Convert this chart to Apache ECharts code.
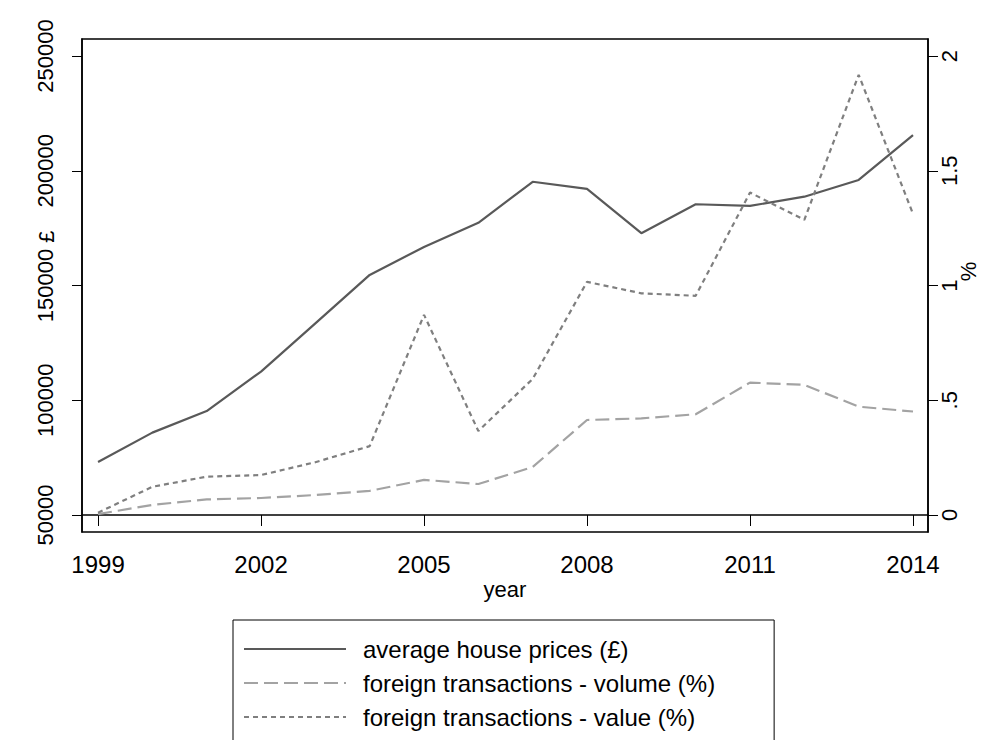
<!DOCTYPE html>
<html>
<head>
<meta charset="utf-8">
<script src="https://cdn.jsdelivr.net/npm/echarts@6/dist/echarts.min.js"></script>
<style>
html,body{margin:0;padding:0;background:#fff;}
#chart{width:998px;height:740px;}
</style>
</head>
<body>
<div id="chart"></div>
<script>
const years = [1999,2000,2001,2002,2003,2004,2005,2006,2007,2008,2009,2010,2011,2012,2013,2014];
const housePrices = [73100,85900,95300,112500,133500,154600,166800,177300,195200,192100,172800,185400,184700,188700,196000,215500];
const volumePct = [0.004,0.044,0.068,0.074,0.087,0.105,0.153,0.135,0.209,0.414,0.421,0.439,0.577,0.567,0.472,0.451];
const valuePct = [0.01,0.123,0.167,0.174,0.23,0.30,0.872,0.366,0.593,1.016,0.966,0.955,1.405,1.286,1.918,1.312];
const xTicks = [1999,2002,2005,2008,2011,2014];
const leftTicks = [50000,100000,150000,200000,250000];
const rightTicks = [0,0.5,1,1.5,2];
const rightTickLabels = ['0','.5','1','1.5','2'];
const seriesNames = ['average house prices (£)','foreign transactions - volume (%)','foreign transactions - value (%)'];

const pair = arr => years.map((y,i)=>[y,arr[i]]);
const font = 'Liberation Sans, Arial, Helvetica, sans-serif';
const solidCol = '#595959', volCol = '#a3a3a3', valCol = '#7f7f7f';
const volDash = [14,6], valDash = [5,4];

const chart = echarts.init(document.getElementById('chart'), null, {renderer:'svg'});
chart.setOption({
  animation:false,
  backgroundColor:'#fff',
  textStyle:{fontFamily:font},
  grid:{left:82, top:39, right:70, bottom:208, show:true, borderColor:'#000', borderWidth:1.5,
        containLabel:false, outerBoundsMode:'none'},
  xAxis:{
    type:'value', min:1998.705, max:2014.276,
    name:'year', nameLocation:'middle', nameGap:46, nameMoveOverlap:false,
    nameTextStyle:{fontSize:22, color:'#000', fontFamily:font},
    axisLine:{show:true, lineStyle:{color:'#000', width:1.5}},
    axisTick:{show:true, length:11, customValues:xTicks, lineStyle:{color:'#000', width:1}},
    axisLabel:{customValues:xTicks, fontSize:24, color:'#000', margin:20, formatter:v=>String(v)},
    splitLine:{show:false}
  },
  yAxis:[{
    type:'value', min:42589, max:257411, position:'left',
    name:'£', nameLocation:'middle', nameGap:25, nameRotate:90, nameMoveOverlap:false,
    nameTextStyle:{fontSize:22, color:'#000', fontFamily:font, padding:[0,0,0,98]},
    axisLine:{show:true, lineStyle:{color:'#000', width:1.5}},
    axisTick:{show:true, length:10, customValues:leftTicks, lineStyle:{color:'#000', width:1}},
    axisLabel:{customValues:leftTicks, rotate:90, fontSize:22, color:'#000', margin:26, formatter:v=>String(v)},
    splitLine:{show:false}
  },{
    type:'value', min:-0.0741, max:2.0741, position:'right',
    name:'%', nameLocation:'middle', nameGap:29, nameRotate:90, nameMoveOverlap:false,
    nameTextStyle:{fontSize:22, color:'#000', fontFamily:font, padding:[0,0,0,28]},
    axisLine:{show:true, lineStyle:{color:'#000', width:1.5}},
    axisTick:{show:true, length:10, customValues:rightTicks, lineStyle:{color:'#000', width:1}},
    axisLabel:{customValues:rightTicks, rotate:90, fontSize:22, color:'#000', margin:10,
      formatter:v=>{const i=rightTicks.findIndex(t=>Math.abs(t-v)<1e-9); return i>=0?rightTickLabels[i]:String(v);}},
    splitLine:{show:false}
  }],
  legend:{
    orient:'vertical', left:233, top:620, height:300,
    borderColor:'#000', borderWidth:1, padding:[17,59,17,10],
    itemWidth:102, itemHeight:14, itemGap:10,
    textStyle:{fontSize:24, color:'#000', lineHeight:24, padding:[0,0,0,12], fontFamily:font},
    data:[
      {name:seriesNames[0], lineStyle:{color:solidCol, width:2, type:'solid'}, itemStyle:{opacity:0}},
      {name:seriesNames[1], lineStyle:{color:volCol, width:2, type:volDash}, itemStyle:{opacity:0}},
      {name:seriesNames[2], lineStyle:{color:valCol, width:2, type:valDash}, itemStyle:{opacity:0}}
    ]
  },
  series:[
    {name:seriesNames[0], type:'line', yAxisIndex:0, data:pair(housePrices), symbol:'none',
      lineStyle:{color:solidCol, width:2.2, type:'solid'}, itemStyle:{color:solidCol}},
    {name:seriesNames[1], type:'line', yAxisIndex:1, data:pair(volumePct), symbol:'none',
      lineStyle:{color:volCol, width:2.2, type:volDash}, itemStyle:{color:volCol}},
    {name:seriesNames[2], type:'line', yAxisIndex:1, data:pair(valuePct), symbol:'none',
      lineStyle:{color:valCol, width:2.2, type:valDash}, itemStyle:{color:valCol}}
  ]
});
</script>
</body>
</html>
